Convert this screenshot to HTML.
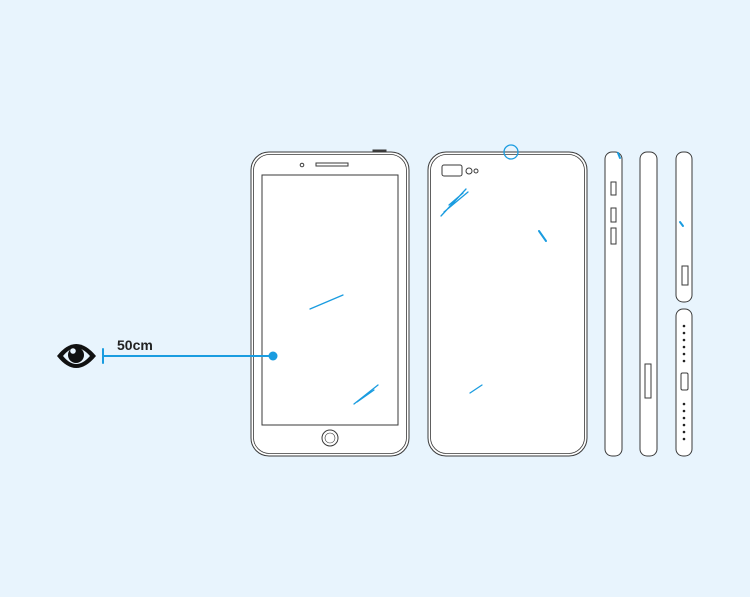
<!DOCTYPE html><html><head><style>body{margin:0;background:#e8f4fd}svg{display:block}</style></head><body>
<svg width="750" height="597" viewBox="0 0 750 597" xmlns="http://www.w3.org/2000/svg">
<rect width="750" height="597" fill="#e8f4fd"/>
<g fill="#fff" stroke="#3a3a3a" stroke-width="1">
<rect x="251" y="152" width="158" height="304" rx="18"/>
<rect x="253.5" y="154.5" width="153" height="299" rx="16" fill="none" stroke-width="0.8"/>
<rect x="262" y="175" width="136" height="250"/>
<circle cx="330" cy="438" r="8"/><circle cx="330" cy="438" r="5" fill="none" stroke-width="0.6"/>
<rect x="316" y="163" width="32" height="3"/>
<circle cx="302" cy="165" r="1.8"/>
<rect x="373" y="150" width="13" height="2" fill="#3a3a3a"/>
<rect x="428" y="152" width="159" height="304" rx="18"/>
<rect x="430.5" y="154.5" width="154" height="299" rx="16" fill="none" stroke-width="0.8"/>
<rect x="442" y="165" width="20" height="11" rx="2"/>
<circle cx="469" cy="171" r="3"/><circle cx="476" cy="171" r="2"/>
<rect x="605" y="152" width="17" height="304" rx="7"/>
<rect x="611" y="182" width="5" height="13"/><rect x="611" y="208" width="5" height="14"/><rect x="611" y="228" width="5" height="16"/>
<rect x="640" y="152" width="17" height="304" rx="7"/>
<rect x="645" y="364" width="6" height="34"/>
<rect x="676" y="152" width="16" height="150" rx="7"/>
<rect x="682" y="266" width="6" height="19"/>
<rect x="676" y="309" width="16" height="147" rx="7"/>
<rect x="681" y="373" width="7" height="17" rx="1.5"/>
</g>
<g fill="#222">
<circle cx="684" cy="326" r="1.3"/><circle cx="684" cy="333" r="1.3"/><circle cx="684" cy="340" r="1.3"/><circle cx="684" cy="347" r="1.3"/><circle cx="684" cy="354" r="1.3"/><circle cx="684" cy="361" r="1.3"/>
<circle cx="684" cy="404" r="1.3"/><circle cx="684" cy="411" r="1.3"/><circle cx="684" cy="418" r="1.3"/><circle cx="684" cy="425" r="1.3"/><circle cx="684" cy="432" r="1.3"/><circle cx="684" cy="439" r="1.3"/>
</g>
<g stroke="#1a9ce0" stroke-width="1.3" fill="none" stroke-linecap="round">
<circle cx="511" cy="152" r="7"/>
<path d="M310 309 L343 295"/><path d="M354 404 L378 385 M357 402 L374 390"/>
<path d="M441 216 L466 189 M444 212 L468 192 M449 205 L463 193"/>
<path d="M539 231 L546 241" stroke-width="2"/><path d="M470 393 L482 385"/>
<path d="M618 153 L620 158" stroke-width="2"/><path d="M680 222 L683 226" stroke-width="2"/>
<path d="M103 356 H273" stroke-width="2"/><path d="M103 349 V363" stroke-width="2"/>
</g>
<circle cx="273" cy="356" r="4.5" fill="#1a9ce0"/>
<text x="117" y="350" font-family="Liberation Sans, sans-serif" font-weight="bold" font-size="14" fill="#222">50cm</text>
<path d="M57 356 Q76 332 96 356 Q76 380 57 356 Z" fill="#111"/>
<path d="M63 356 Q76 340 90 356 Q76 372 63 356 Z" fill="#e8f4fd"/>
<circle cx="76" cy="355" r="8" fill="#111"/><circle cx="73" cy="351" r="2.8" fill="#e8f4fd"/>
</svg>
</body></html>
